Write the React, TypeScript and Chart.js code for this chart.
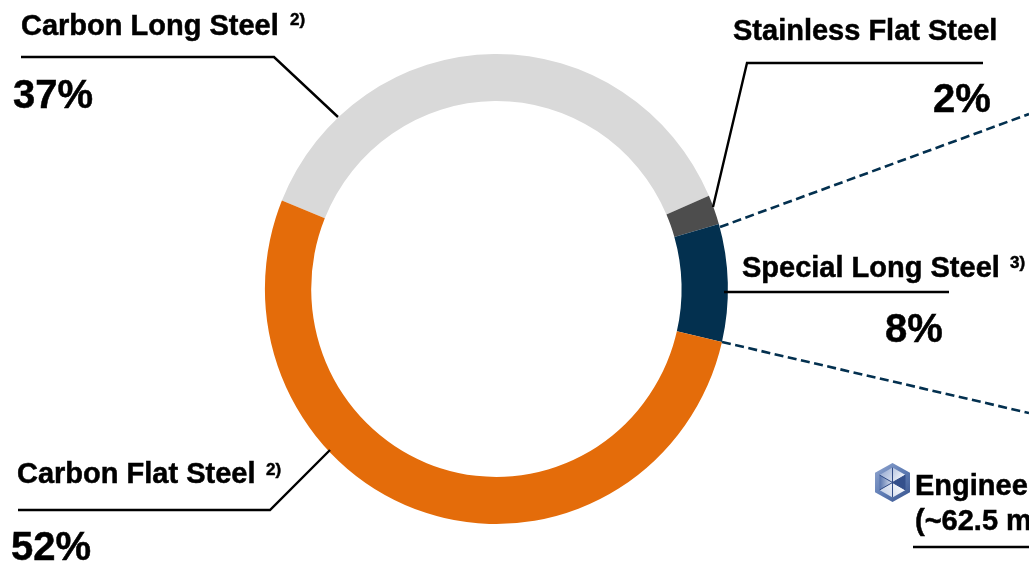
import React, { useEffect, useRef } from "react";
import { Chart, registerables } from "chart.js";

Chart.register(...registerables);

// Segment data, clockwise from the carbon long / carbon flat boundary.
const categories = ["Carbon Long Steel", "Stainless Flat Steel", "Special Long Steel", "Carbon Flat Steel"];
const shares = [37, 2, 8, 52];
const footnotes = ["2)", "", "3)", "2)"];
const segmentColors = ["#D9D9D9", "#4D4D4D", "#03304F", "#E46C0A"];
const callout = ["Engineered Steel", "(~62.5 million t)"];

const WIDTH = 1029;
const HEIGHT = 565;
const CENTER_X = 496.4;
const CENTER_Y = 289;
const RADIUS_X = 231.5;
const RADIUS_Y = 235;
const INK = "#000000";
const DASH_COLOR = "#03304F";
const LABEL_FONT = 'bold 29px "Liberation Sans", Arial, sans-serif';
const NOTE_FONT = 'bold 17px "Liberation Sans", Arial, sans-serif';
const SHARE_FONT = 'bold 40px "Liberation Sans", Arial, sans-serif';

// Label placement, in the same order as the categories.
const labelLayout = [
  { x: 21, y: 35, supX: 290, supY: 25, pctX: 13, pctY: 108 },
  { x: 733, y: 40, supX: 0, supY: 0, pctX: 933, pctY: 112 },
  { x: 742, y: 277, supX: 1010, supY: 268, pctX: 885, pctY: 342 },
  { x: 17, y: 483, supX: 266, supY: 475, pctX: 11, pctY: 560 },
];

const leaders: number[][][] = [
  [[21, 57], [274, 57], [338, 117]],
  [[983, 63], [747, 63], [713, 207]],
  [[724, 292], [949, 292]],
  [[18, 510], [270, 510], [330, 450]],
  [[913, 547], [1029, 547]],
];

const zoomLines: number[][][] = [
  [[720, 227], [1029, 114]],
  [[722, 342], [1029, 413]],
];

// The ring is very slightly taller than wide.
const ringStretch = {
  id: "ringStretch",
  beforeDatasetsDraw(chart: Chart) {
    const { ctx } = chart;
    ctx.save();
    ctx.translate(CENTER_X, CENTER_Y);
    ctx.scale(1, RADIUS_Y / RADIUS_X);
    ctx.translate(-CENTER_X, -CENTER_Y);
  },
  afterDatasetsDraw(chart: Chart) {
    chart.ctx.restore();
  },
};

function polyline(ctx: CanvasRenderingContext2D, pts: number[][]) {
  ctx.beginPath();
  pts.forEach(([x, y], i) => (i ? ctx.lineTo(x, y) : ctx.moveTo(x, y)));
  ctx.stroke();
}

// Bold caption with a hairline outline for a heavier weight.
function heavyText(ctx: CanvasRenderingContext2D, text: string, x: number, y: number, font: string) {
  ctx.font = font;
  ctx.lineWidth = 0.5;
  ctx.strokeStyle = INK;
  ctx.fillStyle = INK;
  ctx.strokeText(text, x, y);
  ctx.fillText(text, x, y);
}

function hexPoints(cx: number, cy: number, rx: number, ry: number) {
  return [
    [cx, cy - ry],
    [cx + rx, cy - ry / 2],
    [cx + rx, cy + ry / 2],
    [cx, cy + ry],
    [cx - rx, cy + ry / 2],
    [cx - rx, cy - ry / 2],
  ];
}

function fillPoly(ctx: CanvasRenderingContext2D, pts: number[][], fill: string | CanvasGradient) {
  ctx.beginPath();
  pts.forEach(([x, y], i) => (i ? ctx.lineTo(x, y) : ctx.moveTo(x, y)));
  ctx.closePath();
  ctx.fillStyle = fill;
  ctx.fill();
}

function drawBadge(ctx: CanvasRenderingContext2D) {
  const cx = 892.5;
  const cy = 482.5;
  const body = ctx.createLinearGradient(cx - 17, cy - 16, cx + 17, cy + 16);
  body.addColorStop(0, "#8DA2CC");
  body.addColorStop(0.5, "#5F7DB5");
  body.addColorStop(1, "#3C5790");
  fillPoly(ctx, hexPoints(cx, cy, 17.5, 19.5), body);

  const [t, tr, br, b, bl, tl] = hexPoints(cx, cy, 13, 15);
  const c = [cx, cy];
  const left = ctx.createLinearGradient(cx - 13, cy, cx, cy);
  left.addColorStop(0, "#5673AC");
  left.addColorStop(1, "#DDE4F2");
  fillPoly(ctx, [tl, c, bl], left);
  fillPoly(ctx, [tr, c, br], "#34508C");
  const top = ctx.createLinearGradient(cx - 8, cy - 14, cx + 10, cy - 2);
  top.addColorStop(0, "#9FB1D5");
  top.addColorStop(1, "#F4F7FC");
  fillPoly(ctx, [tl, t, tr, c], top);
  const bottom = ctx.createLinearGradient(cx - 8, cy + 14, cx + 10, cy + 2);
  bottom.addColorStop(0, "#C9D4E9");
  bottom.addColorStop(1, "#FBFCFE");
  fillPoly(ctx, [bl, c, br, b], bottom);

  ctx.strokeStyle = "#2F4A85";
  ctx.lineWidth = 1;
  polyline(ctx, [tl, br]);
  polyline(ctx, [bl, tr]);
  polyline(ctx, [t, b]);
}

// Leader lines, dashed zoom lines, captions and the callout.
const annotations = {
  id: "annotations",
  afterDraw(chart: Chart) {
    const { ctx } = chart;
    ctx.save();
    ctx.lineJoin = "miter";
    ctx.strokeStyle = INK;
    ctx.lineWidth = 2.4;
    leaders.forEach((pts) => polyline(ctx, pts));

    ctx.strokeStyle = DASH_COLOR;
    ctx.lineWidth = 2.6;
    ctx.setLineDash([9, 4.5]);
    zoomLines.forEach((pts) => polyline(ctx, pts));
    ctx.setLineDash([]);

    ctx.textAlign = "left";
    ctx.textBaseline = "alphabetic";
    categories.forEach((name, i) => {
      const pos = labelLayout[i];
      heavyText(ctx, name, pos.x, pos.y, LABEL_FONT);
      if (footnotes[i]) heavyText(ctx, footnotes[i], pos.supX, pos.supY, NOTE_FONT);
      heavyText(ctx, `${shares[i]}%`, pos.pctX, pos.pctY, SHARE_FONT);
    });

    drawBadge(ctx);
    heavyText(ctx, callout[0], 915, 495, LABEL_FONT);
    heavyText(ctx, callout[1], 915, 530, LABEL_FONT);
    ctx.restore();
  },
};

export default function App() {
  const canvasRef = useRef<HTMLCanvasElement | null>(null);

  useEffect(() => {
    if (!canvasRef.current) return;
    const chart = new Chart(canvasRef.current, {
      type: "doughnut",
      data: {
        labels: categories,
        datasets: [
          {
            data: shares,
            backgroundColor: segmentColors,
            borderWidth: 0,
            clip: false,
          } as any,
        ],
      },
      options: {
        responsive: false,
        animation: false,
        rotation: -67.9,
        cutout: "80%",
        layout: {
          padding: {
            left: CENTER_X - RADIUS_X,
            right: WIDTH - CENTER_X - RADIUS_X,
            top: CENTER_Y - RADIUS_X,
            bottom: HEIGHT - CENTER_Y - RADIUS_X,
          },
        },
        plugins: {
          legend: { display: false },
          title: { display: false },
          tooltip: { enabled: false },
        },
      },
      plugins: [ringStretch, annotations],
    });
    return () => chart.destroy();
  }, []);

  return (
    <div style={{ position: "absolute", left: 0, top: 0, width: WIDTH, height: HEIGHT, overflow: "hidden", background: "#fff" }}>
      <canvas ref={canvasRef} width={WIDTH} height={HEIGHT} style={{ display: "block" }} />
    </div>
  );
}
